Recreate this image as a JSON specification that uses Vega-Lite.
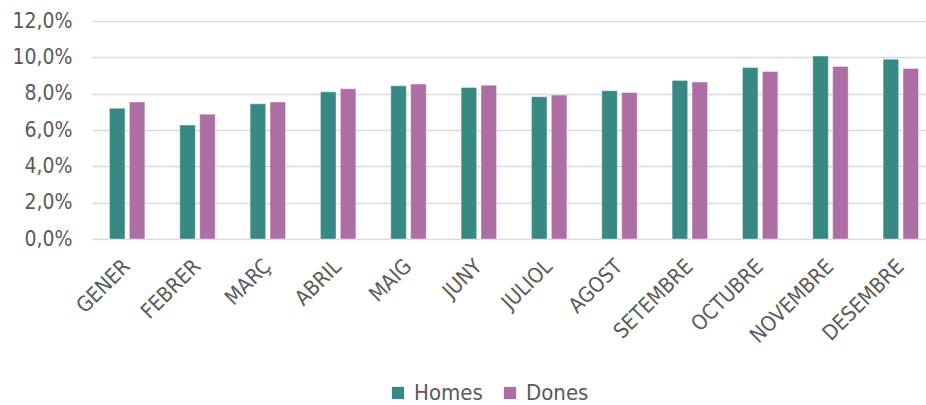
{
  "$schema": "https://vega.github.io/schema/vega-lite/v6.json",
  "width": 844,
  "height": 218,
  "autosize": {"type": "none"},
  "padding": {"left": 92, "top": 21, "right": 0, "bottom": 166},
  "background": "white",
  "config": {
    "locale": {"number": {"decimal": ",", "thousands": ".", "grouping": [3], "currency": ["", " €"]}},
    "view": {"stroke": null},
    "font": "DejaVu Sans Condensed"
  },
  "data": {
    "values": [
      {"mes": "GENER", "sexe": "Homes", "valor": 0.072},
      {"mes": "GENER", "sexe": "Dones", "valor": 0.0754},
      {"mes": "FEBRER", "sexe": "Homes", "valor": 0.0627},
      {"mes": "FEBRER", "sexe": "Dones", "valor": 0.0687},
      {"mes": "MARÇ", "sexe": "Homes", "valor": 0.0744},
      {"mes": "MARÇ", "sexe": "Dones", "valor": 0.0754},
      {"mes": "ABRIL", "sexe": "Homes", "valor": 0.081},
      {"mes": "ABRIL", "sexe": "Dones", "valor": 0.0827},
      {"mes": "MAIG", "sexe": "Homes", "valor": 0.0843},
      {"mes": "MAIG", "sexe": "Dones", "valor": 0.0853},
      {"mes": "JUNY", "sexe": "Homes", "valor": 0.0834},
      {"mes": "JUNY", "sexe": "Dones", "valor": 0.0847},
      {"mes": "JULIOL", "sexe": "Homes", "valor": 0.0783},
      {"mes": "JULIOL", "sexe": "Dones", "valor": 0.0792},
      {"mes": "AGOST", "sexe": "Homes", "valor": 0.0816},
      {"mes": "AGOST", "sexe": "Dones", "valor": 0.0807},
      {"mes": "SETEMBRE", "sexe": "Homes", "valor": 0.0873},
      {"mes": "SETEMBRE", "sexe": "Dones", "valor": 0.0864},
      {"mes": "OCTUBRE", "sexe": "Homes", "valor": 0.0944},
      {"mes": "OCTUBRE", "sexe": "Dones", "valor": 0.0922},
      {"mes": "NOVEMBRE", "sexe": "Homes", "valor": 0.1007},
      {"mes": "NOVEMBRE", "sexe": "Dones", "valor": 0.095},
      {"mes": "DESEMBRE", "sexe": "Homes", "valor": 0.099},
      {"mes": "DESEMBRE", "sexe": "Dones", "valor": 0.0939}
    ]
  },
  "mark": {"type": "bar", "stroke": "#ffffff", "strokeOpacity": 0.5, "strokeWidth": 0.8},
  "encoding": {
    "x": {
      "field": "mes",
      "type": "nominal",
      "sort": null,
      "title": null,
      "scale": {"paddingInner": 0, "paddingOuter": 0},
      "axis": {
        "domain": false,
        "ticks": false,
        "tickSize": 0,
        "labelAngle": -45,
        "labelAlign": "right",
        "labelBaseline": "middle",
        "labelPadding": 24,
        "labelFont": "DejaVu Sans Condensed",
        "labelFontSize": 21,
        "labelColor": "#595959",
        "labelOverlap": false
      }
    },
    "xOffset": {
      "field": "sexe",
      "type": "nominal",
      "sort": ["Homes", "Dones"],
      "scale": {"paddingInner": 0.22, "paddingOuter": 0.877}
    },
    "y": {
      "field": "valor",
      "type": "quantitative",
      "title": null,
      "scale": {"domain": [0, 0.12], "nice": false},
      "axis": {
        "values": [0, 0.02, 0.04, 0.06, 0.08, 0.1, 0.12],
        "format": ".1%",
        "domain": false,
        "ticks": false,
        "tickSize": 0,
        "labelPadding": 20,
        "labelFont": "DejaVu Sans Condensed",
        "labelFontSize": 21,
        "labelColor": "#595959",
        "gridColor": "#D9D9D9",
        "gridWidth": 1.5
      }
    },
    "color": {
      "field": "sexe",
      "type": "nominal",
      "sort": ["Homes", "Dones"],
      "scale": {"domain": ["Homes", "Dones"], "range": ["#388884", "#AD6EA3"]},
      "legend": {
        "title": null,
        "orient": "none",
        "direction": "horizontal",
        "legendX": 295,
        "legendY": 361,
        "symbolType": "square",
        "symbolSize": 150,
        "symbolStrokeWidth": 0,
        "labelFont": "DejaVu Sans Condensed",
        "labelFontSize": 22,
        "labelColor": "#595959",
        "labelOffset": 5,
        "columnPadding": 16
      }
    }
  }
}
